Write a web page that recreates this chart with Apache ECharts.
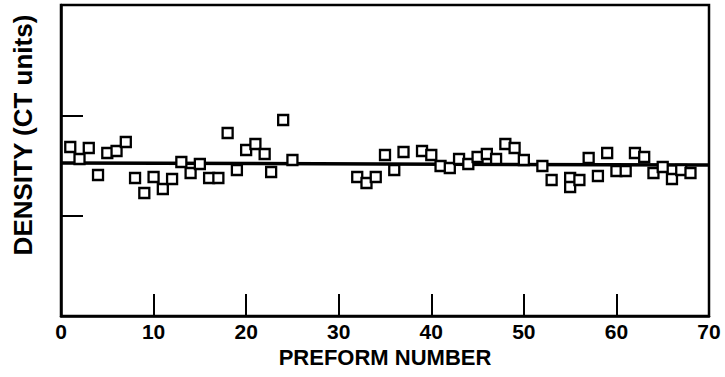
<!DOCTYPE html>
<html>
<head>
<meta charset="utf-8">
<script src="https://cdn.jsdelivr.net/npm/echarts@6/dist/echarts.min.js"></script>
<style>
  html, body { margin: 0; padding: 0; background: #fff; }
  #chart { width: 725px; height: 377px; }
</style>
</head>
<body>
<div id="chart"></div>
<script>
// Preform number (x) and density in CT units (arbitrary scale; tick marks at 1 and 2)
const preform = [1, 2, 3, 4, 5, 6, 7, 8, 9, 10, 11, 12, 13, 14, 15, 16, 17, 18, 19, 20, 21, 22, 22.7, 24, 25,
                 32, 33, 34, 35, 36, 37, 39, 40, 41, 42, 43, 44, 45, 46, 47, 48, 49, 50, 52, 53, 55, 55, 56, 57, 58, 59, 60, 61, 62, 63, 64, 65, 66, 67, 68];
const density = [1.69, 1.57, 1.68, 1.41, 1.63, 1.65, 1.74, 1.38, 1.23, 1.39, 1.27, 1.37, 1.54, 1.43, 1.52, 1.38, 1.38, 1.83, 1.46, 1.66, 1.72, 1.62, 1.44, 1.96, 1.56,
                 1.39, 1.33, 1.39, 1.61, 1.46, 1.64, 1.65, 1.61, 1.50, 1.48, 1.57, 1.52, 1.59, 1.62, 1.57, 1.72, 1.68, 1.56, 1.50, 1.36, 1.38, 1.29, 1.36, 1.58, 1.40, 1.63, 1.45, 1.45, 1.63, 1.59, 1.43, 1.49, 1.37, 1.46, 1.43];
// Mean (reference) line end points
const lineX = [0, 70];
const lineY = [1.53, 1.51];
// Axis ticks
const xTicks = [0, 10, 20, 30, 40, 50, 60, 70];
const yTickMarks = [1, 2];

const points = preform.map((x, i) => [x, density[i]]);
const linePts = lineX.map((x, i) => [x, lineY[i]]);

const sans = '"Liberation Sans", Arial, Helvetica, sans-serif';
const chart = echarts.init(document.getElementById('chart'), null, { renderer: 'svg' });
chart.setOption({
  animation: false,
  backgroundColor: '#fff',
  grid: { left: 61, right: 16, top: 5, bottom: 61, show: true, borderColor: '#000', borderWidth: 2.5, backgroundColor: 'transparent' },
  xAxis: {
    type: 'value', min: 0, max: 70, interval: 10,
    name: 'PREFORM NUMBER', nameLocation: 'middle', nameGap: 30,
    nameTextStyle: { fontFamily: sans, fontWeight: 'bold', fontSize: 22, color: '#000' },
    axisLine: { show: true, lineStyle: { color: '#000', width: 2.5 } },
    axisTick: { show: true, inside: true, length: 22, lineStyle: { color: '#000', width: 2 } },
    axisLabel: { margin: 5, fontFamily: sans, fontWeight: 'bold', fontSize: 21, color: '#000',
                 customValues: xTicks },
    splitLine: { show: false }
  },
  yAxis: {
    type: 'value', min: 0, max: 3.11,
    axisLine: { show: true, lineStyle: { color: '#000', width: 2.5 } },
    axisTick: { show: true, inside: true, length: 22, lineStyle: { color: '#000', width: 2 }, customValues: yTickMarks },
    axisLabel: { show: false },
    splitLine: { show: false }
  },
  graphic: [{
    type: 'text', x: 23, y: 135, rotation: Math.PI / 2,
    style: { text: 'DENSITY (CT units)', fill: '#000', font: 'bold 26px "Liberation Sans", Arial, sans-serif',
             textAlign: 'center', textVerticalAlign: 'middle' }
  }],
  series: [
    { type: 'line', data: linePts, symbol: 'none', lineStyle: { color: '#000', width: 3.5 }, z: 2 },
    { type: 'scatter', data: points, symbol: 'rect', symbolSize: 10,
      itemStyle: { color: '#fff', borderColor: '#000', borderWidth: 2.3, opacity: 1 }, z: 3 }
  ]
});
</script>
</body>
</html>
